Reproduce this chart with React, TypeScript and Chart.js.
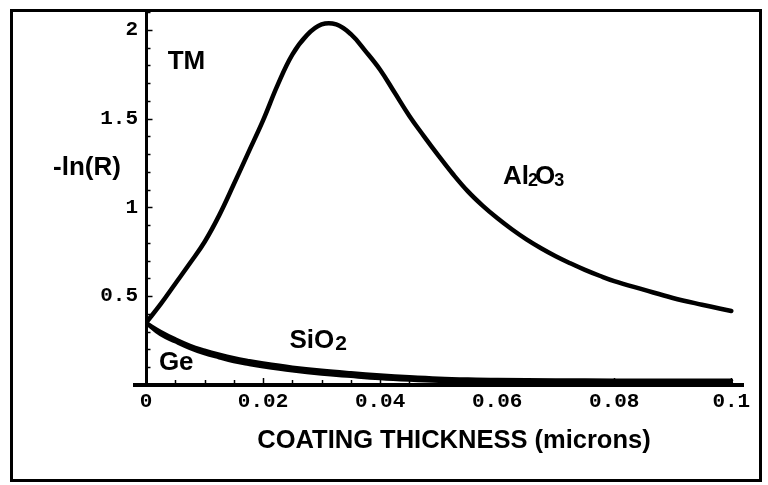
import React, { useEffect, useRef } from "react";
import { Chart, registerables } from "chart.js";

Chart.register(...registerables);

// ---- data ----
const xTicks = [0, 0.02, 0.04, 0.06, 0.08, 0.1];
const xTickLabels = ["0", "0.02", "0.04", "0.06", "0.08", "0.1"];
const yTicks = [0.5, 1, 1.5, 2];
const yTickLabels = ["0.5", "1", "1.5", "2"];

const al2o3Thickness = [
  0, 0.0025, 0.005, 0.0075, 0.01, 0.0125, 0.015, 0.0175, 0.02, 0.0225, 0.025,
  0.0275, 0.03, 0.0325, 0.035, 0.0375, 0.04, 0.0425, 0.045, 0.0475, 0.05,
  0.0525, 0.055, 0.0575, 0.06, 0.0625, 0.065, 0.0675, 0.07, 0.0725, 0.075,
  0.0775, 0.08, 0.085, 0.09, 0.095, 0.1,
];
const al2o3Values = [
  0.35, 0.455, 0.57, 0.685, 0.805, 0.955, 1.13, 1.31, 1.49, 1.69, 1.86, 1.97,
  2.03, 2.03, 1.975, 1.88, 1.775, 1.645, 1.515, 1.4, 1.29, 1.185, 1.09, 1.01,
  0.94, 0.877, 0.82, 0.77, 0.725, 0.685, 0.648, 0.615, 0.585, 0.537, 0.49,
  0.452, 0.417,
];

const sio2Thickness = [
  0, 0.0025, 0.005, 0.0075, 0.01, 0.0125, 0.015, 0.0175, 0.02, 0.025, 0.03,
  0.035, 0.04, 0.045, 0.05, 0.055, 0.06, 0.07, 0.08, 0.09, 0.1,
];
const sio2Values = [
  0.35, 0.3, 0.258, 0.222, 0.195, 0.172, 0.152, 0.136, 0.122, 0.099, 0.081,
  0.067, 0.055, 0.045, 0.037, 0.032, 0.029, 0.027, 0.026, 0.025, 0.025,
];

const geThickness = [
  0, 0.0025, 0.005, 0.0075, 0.01, 0.0125, 0.015, 0.0175, 0.02, 0.025, 0.03,
  0.035, 0.04, 0.045, 0.05, 0.055, 0.06, 0.07, 0.08, 0.09, 0.1,
];
const geValues = [
  0.35, 0.285, 0.245, 0.208, 0.178, 0.155, 0.134, 0.118, 0.104, 0.081, 0.063,
  0.05, 0.038, 0.029, 0.022, 0.018, 0.015, 0.012, 0.011, 0.01, 0.01,
];

const toPoints = (xs: number[], ys: number[]) =>
  xs.map((x, i) => ({ x, y: ys[i] }));

const SANS = '"Liberation Sans", Arial, Helvetica, sans-serif';
const MONO = '"Liberation Mono", "Courier New", monospace';

const decorPlugin = {
  id: "decor",
  afterDraw(chart: any) {
    const { ctx } = chart;
    const xs = chart.scales.x;
    const ys = chart.scales.y;
    const area = chart.chartArea;
    ctx.save();
    ctx.strokeStyle = "#000";
    ctx.fillStyle = "#000";

    // outer frame
    ctx.lineWidth = 3;
    ctx.strokeRect(11.5, 10.5, 749, 470);

    // x axis extension to the left
    ctx.lineWidth = 4;
    ctx.beginPath();
    ctx.moveTo(133, area.bottom);
    ctx.lineTo(area.left, area.bottom);
    ctx.stroke();

    // y-axis inward ticks
    ctx.lineWidth = 1.5;
    for (let k = 1; k <= 21; k++) {
      const v = k / 10;
      const py = Math.round(ys.getPixelForValue(v)) + 0.5;
      const len = k % 5 === 0 ? 5 : 3;
      ctx.beginPath();
      ctx.moveTo(area.left, py);
      ctx.lineTo(area.left + 1.5 + len, py);
      ctx.stroke();
    }
    // x-axis inward ticks
    for (let k = 1; k <= 20; k++) {
      const v = k * 0.005;
      const px = Math.round(xs.getPixelForValue(v)) + 0.5;
      const len = k % 4 === 0 ? 5 : 3;
      ctx.beginPath();
      ctx.moveTo(px, area.bottom);
      ctx.lineTo(px, area.bottom - 2 - len);
      ctx.stroke();
    }

    // texts
    ctx.textBaseline = "middle";
    ctx.textAlign = "left";
    const bold = (s: number) => `bold ${s}px ${SANS}`;

    // TM
    ctx.font = bold(26);
    ctx.fillText("TM", xs.getPixelForValue(0.0037), ys.getPixelForValue(1.82));

    // -ln(R)
    ctx.font = bold(26);
    ctx.fillText("-ln(R)", 53, ys.getPixelForValue(1.22));

    // Al2O3
    let px = xs.getPixelForValue(0.061);
    let py = ys.getPixelForValue(1.17);
    ctx.font = bold(26);
    ctx.fillText("Al", px, py);
    px += ctx.measureText("Al").width - 1;
    ctx.font = bold(18);
    ctx.fillText("2", px, py + 4);
    px += ctx.measureText("2").width - 3;
    ctx.font = bold(26);
    ctx.fillText("O", px, py);
    px += ctx.measureText("O").width - 1;
    ctx.font = bold(18);
    ctx.fillText("3", px, py + 4);

    // SiO2
    px = xs.getPixelForValue(0.0245);
    py = ys.getPixelForValue(0.248);
    ctx.font = bold(26);
    ctx.fillText("SiO", px, py);
    px += ctx.measureText("SiO").width + 1;
    ctx.font = bold(21);
    ctx.fillText("2", px, py + 3);

    // Ge
    ctx.font = bold(26);
    ctx.fillText("Ge", xs.getPixelForValue(0.0022), ys.getPixelForValue(0.124));

    // axis title
    ctx.textAlign = "center";
    ctx.font = bold(25.5);
    ctx.fillText("COATING THICKNESS (microns)", 454, 441);

    ctx.restore();
  },
};

export default function App() {
  const canvasRef = useRef<HTMLCanvasElement | null>(null);

  useEffect(() => {
    if (!canvasRef.current) return;
    const line = (data: any[], width: number) => ({
      data,
      showLine: true,
      borderColor: "#000",
      backgroundColor: "#000",
      borderWidth: width,
      pointRadius: 0,
      tension: 0.4,
      fill: false,
      borderCapStyle: "round" as const,
      borderJoinStyle: "round" as const,
    });
    const chart = new Chart(canvasRef.current, {
      type: "scatter",
      data: {
        datasets: [
          { label: "Al2O3", ...line(toPoints(al2o3Thickness, al2o3Values), 4.5) },
          { label: "SiO2", ...line(toPoints(sio2Thickness, sio2Values), 4) },
          { label: "Ge", ...line(toPoints(geThickness, geValues), 4) },
        ],
      },
      options: {
        responsive: false,
        animation: false,
        devicePixelRatio: 1,
        layout: { padding: { left: 0, top: 12, right: 25, bottom: 0 } },
        plugins: {
          legend: { display: false },
          tooltip: { enabled: false },
        },
        scales: {
          x: {
            type: "linear",
            min: 0,
            max: 0.102,
            grid: { display: false, drawTicks: false },
            border: { display: true, color: "#000", width: 4 },
            afterBuildTicks: (s: any) => {
              s.ticks = xTicks.map((v) => ({ value: v }));
            },
            afterFit: (s: any) => {
              s.height = 100;
              s.paddingLeft = 0;
              s.paddingRight = 0;
            },
            ticks: {
              autoSkip: false,
              maxRotation: 0,
              padding: 4,
              color: "#000",
              font: { family: MONO, size: 21, weight: "bold" },
              callback: (_v: any, i: number) => xTickLabels[i],
            },
          },
          y: {
            type: "linear",
            min: 0,
            max: 2.1,
            grid: { display: false, drawTicks: false },
            border: { display: true, color: "#000", width: 3 },
            afterBuildTicks: (s: any) => {
              s.ticks = yTicks.map((v) => ({ value: v }));
            },
            afterFit: (s: any) => {
              s.width = 146;
              s.paddingTop = 0;
              s.paddingBottom = 0;
            },
            ticks: {
              autoSkip: false,
              padding: 8,
              color: "#000",
              font: { family: MONO, size: 21, weight: "bold" },
              callback: (_v: any, i: number) => yTickLabels[i],
            },
          },
        },
      },
      plugins: [decorPlugin],
    });
    return () => chart.destroy();
  }, []);

  return (
    <div
      style={{
        position: "fixed",
        left: 0,
        top: 0,
        width: 768,
        height: 485,
        background: "#fff",
      }}
    >
      <canvas ref={canvasRef} width={768} height={485} />
    </div>
  );
}
